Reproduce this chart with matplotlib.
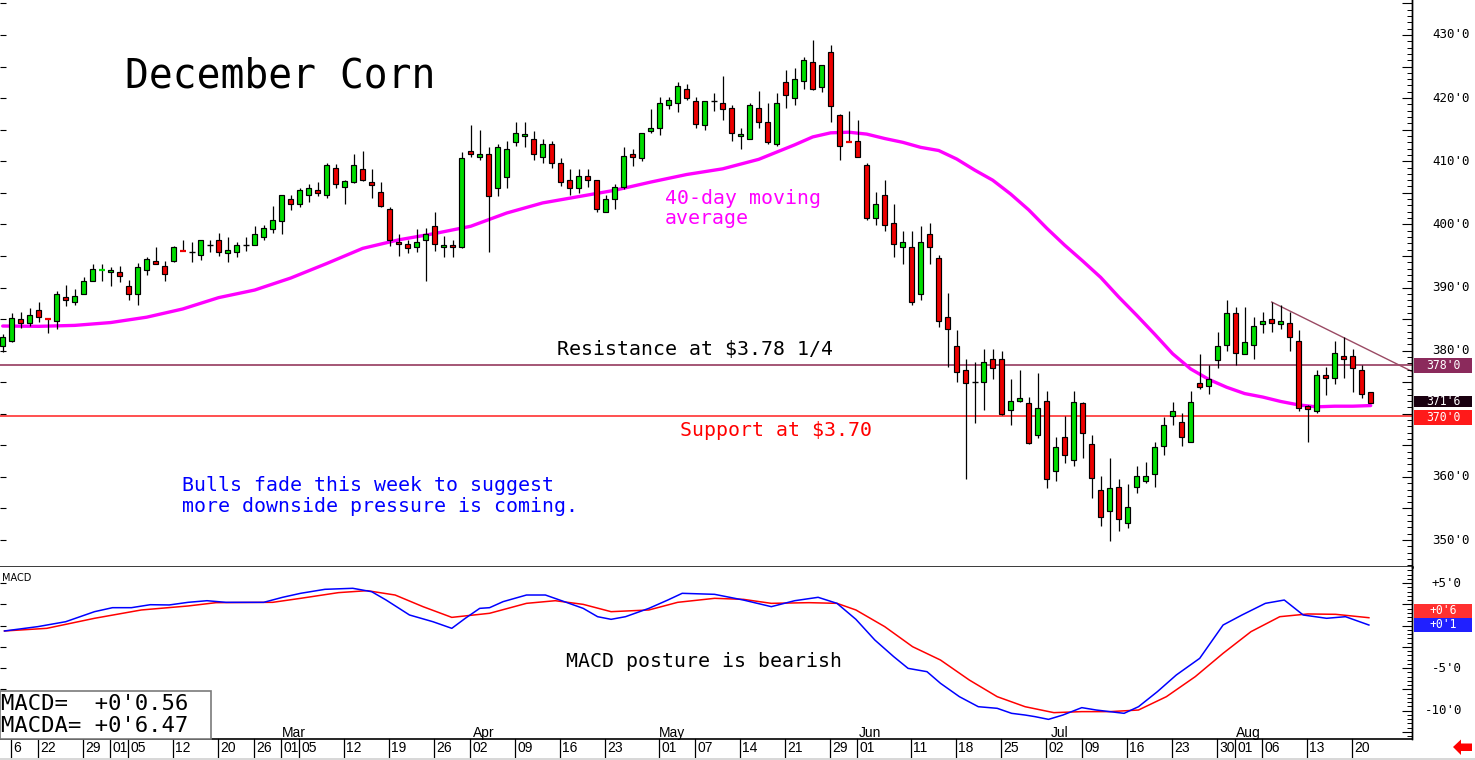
import matplotlib
matplotlib.use("Agg")
import matplotlib.pyplot as plt
import matplotlib.transforms as mtransforms
from matplotlib.patches import Rectangle, Polygon
from matplotlib.ticker import MultipleLocator, NullLocator

# ---------------- data ----------------
opens = [380.7, 381.6, 385.0, 384.3, 386.4, 385.1, 384.65, 388.55, 387.65, 388.9,
         391.1, 392.75, 392.4, 392.4, 390.2, 388.9, 392.7, 394.15, 393.4, 394.15,
         395.9, 395.7, 395.1, 396.7, 397.5, 395.4, 395.7, 396.7, 396.7, 397.95,
         399.2, 400.5, 404.0, 403.3, 404.6, 405.4, 404.6, 408.9, 405.9, 406.7,
         408.7, 406.7, 405.2, 402.4, 397.2, 396.85, 396.4, 397.6, 399.7, 396.4,
         396.7, 396.4, 411.7, 410.6, 411.1, 405.7, 407.5, 413.0, 413.95, 413.5,
         410.6, 412.7, 409.7, 407.0, 405.7, 407.6, 407.0, 401.9, 404.0, 405.9,
         411.1, 410.5, 414.75, 415.2, 418.9, 419.2, 421.4, 419.5, 415.7, 419.5,
         419.2, 418.4, 413.95, 413.6, 418.4, 416.2, 412.7, 422.5, 420.0, 422.7,
         425.7, 421.7, 427.3, 417.4, 413.1, 413.2, 409.4, 401.0, 404.6, 400.2,
         396.4, 396.4, 388.9, 398.4, 394.6, 385.4, 380.7, 376.9, 375.1, 375.1,
         378.6, 378.6, 370.65, 372.1, 371.7, 366.6, 372.1, 360.9, 366.4, 362.6,
         371.7, 365.2, 357.9, 354.55, 358.4, 352.65, 358.4, 359.3, 360.4, 364.85,
         369.6, 368.65, 365.6, 374.8, 374.35, 378.5, 380.85, 385.9, 379.4, 380.85,
         384.2, 385.0, 384.2, 384.3, 381.6, 371.2, 370.4, 376.1, 375.6, 379.1,
         379.1, 376.9, 373.4]
highs = [382.6, 385.9, 386.1, 386.8, 387.7, 385.2, 389.45, 390.35, 389.7, 391.6,
         393.7, 393.7, 393.25, 393.4, 391.2, 393.85, 394.8, 396.4, 394.15, 396.5,
         397.5, 397.2, 397.6, 397.5, 398.6, 397.95, 397.2, 397.95, 399.7, 399.9,
         402.9, 404.7, 404.65, 405.8, 406.4, 406.7, 409.7, 409.5, 407.0, 411.1,
         411.7, 408.7, 406.7, 402.8, 398.4, 397.5, 399.2, 399.4, 401.9, 398.1,
         397.6, 411.5, 415.7, 414.9, 412.2, 412.7, 413.2, 416.2, 416.2, 414.75,
         413.5, 413.2, 410.5, 408.7, 408.7, 408.7, 407.1, 404.6, 406.35, 412.2,
         411.9, 414.5, 418.3, 420.1, 420.1, 422.5, 422.2, 420.1, 419.6, 420.8,
         423.5, 418.9, 415.2, 419.2, 421.2, 419.2, 420.8, 424.4, 424.7, 426.5,
         429.2, 425.3, 428.4, 417.5, 417.9, 416.6, 409.7, 405.2, 407.0, 403.2,
         398.9, 398.9, 399.7, 400.2, 395.1, 389.1, 383.2, 378.6, 378.2, 380.3,
         380.2, 379.9, 375.5, 376.9, 372.6, 376.4, 373.6, 366.4, 369.6, 373.6,
         371.8, 366.6, 360.1, 363.0, 359.6, 358.8, 361.8, 362.3, 365.6, 369.45,
         371.8, 370.1, 373.6, 379.4, 377.7, 382.9, 388.1, 386.9, 386.9, 385.4,
         386.1, 387.7, 387.2, 386.1, 383.2, 371.35, 376.9, 377.4, 381.6, 382.1,
         380.2, 377.8, 373.4]
lows = [379.8, 381.3, 383.6, 383.9, 384.6, 382.8, 383.4, 387.1, 387.3, 388.9,
        391.0, 391.1, 390.3, 390.9, 388.1, 387.3, 392.0, 393.7, 391.1, 394.1,
        395.8, 394.1, 394.4, 395.7, 395.0, 394.1, 394.9, 395.8, 396.7, 397.5,
        398.6, 398.4, 402.3, 402.8, 403.6, 404.5, 404.1, 405.8, 403.2, 406.6,
        406.9, 404.1, 402.8, 396.6, 395.0, 395.4, 395.7, 391.1, 395.8, 394.9,
        394.9, 396.3, 410.6, 410.15, 395.7, 404.5, 405.7, 412.4, 412.2, 410.15,
        409.7, 408.9, 406.1, 404.6, 404.9, 405.9, 401.9, 401.9, 402.4, 405.6,
        409.2, 410.0, 414.4, 414.1, 418.2, 417.75, 419.65, 415.2, 414.9, 417.9,
        416.6, 413.2, 411.9, 413.5, 415.2, 412.7, 412.4, 418.5, 418.9, 421.4,
        421.3, 420.9, 416.2, 410.15, 413.0, 410.6, 400.7, 399.9, 398.9, 394.9,
        393.7, 387.3, 388.0, 393.7, 383.7, 377.4, 375.1, 359.6, 368.6, 370.65,
        375.5, 369.85, 368.3, 371.8, 365.2, 366.1, 358.2, 359.3, 362.2, 361.7,
        363.0, 356.6, 352.3, 349.8, 351.5, 351.9, 357.4, 359.1, 358.4, 363.4,
        368.2, 364.85, 365.6, 373.9, 373.1, 377.2, 379.9, 377.8, 379.4, 378.6,
        382.75, 382.9, 383.4, 379.9, 370.4, 365.6, 370.1, 372.9, 374.7, 375.6,
        373.4, 372.45, 371.75]
closes = [382.1, 385.1, 384.3, 385.6, 385.4, 385.0, 388.9, 388.1, 388.6, 391.1,
          392.9, 392.85, 392.7, 391.9, 388.9, 393.2, 394.5, 393.7, 392.1, 396.4,
          395.8, 395.7, 397.5, 396.7, 395.7, 395.9, 396.7, 396.7, 398.4, 399.4,
          400.65, 404.6, 403.3, 405.4, 405.7, 404.9, 409.4, 406.4, 406.9, 409.4,
          407.1, 406.2, 402.9, 397.5, 396.85, 396.2, 397.2, 398.4, 396.85, 396.7,
          396.4, 410.5, 411.1, 411.1, 404.45, 412.2, 411.9, 414.4, 414.3, 411.1,
          412.7, 409.7, 406.7, 405.7, 407.6, 407.1, 402.4, 404.0, 405.9, 410.9,
          410.6, 414.4, 415.2, 419.2, 419.65, 421.9, 420.0, 415.9, 419.5, 419.5,
          418.2, 414.4, 414.3, 418.9, 416.2, 413.0, 419.2, 420.45, 423.0, 426.0,
          421.4, 425.2, 418.7, 412.4, 413.0, 410.6, 401.0, 403.3, 399.9, 396.85,
          397.2, 387.7, 397.2, 396.4, 384.65, 383.4, 376.6, 374.8, 375.1, 378.2,
          377.2, 370.0, 372.1, 372.45, 365.3, 370.9, 359.6, 364.7, 363.4, 371.8,
          366.9, 359.9, 353.6, 358.2, 353.4, 355.2, 360.1, 360.1, 364.7, 368.2,
          370.4, 366.4, 371.8, 374.2, 375.5, 380.7, 385.9, 379.6, 381.3, 383.9,
          384.65, 384.3, 384.65, 382.1, 370.9, 370.7, 376.1, 375.6, 379.6, 378.6,
          377.2, 373.1, 371.75]

# 40-day moving average (candle index, price)
ma_idx = [0, 4, 8, 12, 16, 20, 24, 28, 32, 36, 40, 44, 48, 52, 56, 60, 64, 68, 72, 76,
          80, 84, 88, 90, 92, 94, 96, 98, 100, 102, 104, 106, 108, 110, 112, 114, 116,
          118, 120, 122, 124, 126, 128, 130, 132, 134, 136, 138, 140, 142, 144, 146,
          148, 150, 152]
ma_vals = [383.9, 383.85, 384.0, 384.45, 385.3, 386.6, 388.4, 389.6, 391.5, 393.8,
           396.2, 397.55, 398.55, 399.7, 401.8, 403.4, 404.4, 405.4, 406.7, 407.9,
           408.8, 410.3, 412.6, 413.85, 414.5, 414.6, 414.3, 413.6, 413.0, 412.2,
           411.7, 410.35, 408.6, 407.0, 404.8, 402.3, 399.4, 396.7, 394.2, 391.6,
           388.5, 385.6, 382.6, 379.5, 377.1, 375.45, 374.2, 373.2, 372.65, 371.95,
           371.4, 371.1, 371.2, 371.2, 371.3]

# MACD (blue) and MACD average (red) (candle index, value)
macd_idx = [0.2, 3.9, 7.0, 10.2, 12.2, 14.3, 16.4, 18.5, 20.6, 22.7, 24.8, 29.0, 31.1,
            33.1, 35.8, 38.9, 41.0, 42.6, 45.2, 47.8, 49.9, 51.4, 53.0, 54.1, 55.6,
            58.2, 60.3, 62.4, 64.5, 66.1, 67.6, 69.2, 71.8, 73.9, 75.5, 79.1, 82.3,
            85.4, 88.0, 90.6, 92.7, 94.8, 96.9, 99.0, 100.6, 102.7, 104.2, 106.3,
            108.4, 110.5, 112.1, 113.6, 114.7, 116.2, 117.8, 119.9, 121.5, 123.0,
            124.6, 126.2, 128.3, 130.4, 133.0, 135.6, 137.7, 140.3, 142.4, 144.5,
            147.1, 149.2, 151.8]
macd_vals = [-0.62, -0.11, 0.47, 1.65, 2.12, 2.12, 2.47, 2.44, 2.75, 2.94, 2.75, 2.75,
             3.34, 3.81, 4.28, 4.40, 4.00, 3.02, 1.26, 0.47, -0.31, 0.87, 2.04, 2.12,
             2.83, 3.61, 3.61, 2.83, 2.04, 1.06, 0.75, 1.06, 2.04, 3.02, 3.81, 3.69,
             3.02, 2.24, 2.94, 3.34, 2.63, 0.75, -1.68, -3.64, -5.02, -5.41, -6.78,
             -8.35, -9.53, -9.72, -10.31, -10.51, -10.70, -11.02, -10.51, -9.64,
             -9.92, -10.11, -10.31, -9.53, -7.76, -5.80, -3.84, 0.08, 1.26, 2.63,
             3.02, 1.26, 0.87, 1.06, 0.08]
sig_idx = [0.2, 4.9, 10.2, 15.4, 20.6, 23.7, 30.0, 33.1, 37.3, 40.5, 43.6, 46.7, 49.9,
           54.1, 58.2, 61.4, 64.5, 67.6, 71.8, 75.0, 79.1, 82.3, 85.4, 89.6, 92.7,
           94.8, 98.0, 101.1, 104.2, 107.4, 110.5, 113.6, 116.8, 119.9, 123.0, 126.2,
           129.3, 132.5, 135.6, 138.7, 141.9, 145.0, 148.1, 151.8]
sig_vals = [-0.62, -0.31, 0.87, 1.85, 2.32, 2.71, 2.75, 3.22, 3.89, 4.12, 3.61, 2.24,
            0.98, 1.46, 2.63, 2.94, 2.51, 1.65, 1.85, 2.75, 3.22, 3.10, 2.63, 2.71,
            2.63, 1.85, -0.11, -2.47, -4.04, -6.39, -8.35, -9.53, -10.23, -10.11,
            -10.11, -9.92, -8.35, -6.00, -3.25, -0.70, 1.06, 1.38, 1.34, 0.94]

resistance_level = 377.65     # drawn line ("378'0")
support_level = 369.7         # drawn line ("370'0")
trend_idx = [141, 156.6]
trend_vals = [387.7, 376.7]

# 370'0 is covered by the support value box in the reference
price_ticks = [350, 360, 380, 390, 400, 410, 420, 430]
macd_ticks = [5, -5, -10]
macd_tick_labels = ["+5'0", "-5'0", "-10'0"]

date_idx = [1, 4, 9, 12, 14, 19, 24, 28, 31, 33, 38, 43, 48, 52, 57, 62, 67, 73, 77,
            82, 87, 92, 95, 101, 106, 111, 116, 120, 125, 130, 135, 137, 140, 145, 150]
date_labels = ["6", "22", "29", "01", "05", "12", "20", "26", "01", "05", "12", "19",
               "26", "02", "09", "16", "23", "01", "07", "14", "21", "29", "01", "11",
               "18", "25", "02", "09", "16", "23", "30", "01", "06", "13", "20"]
month_idx = [31, 52, 73, 95, 116, 137]
month_labels = ["Mar", "Apr", "May", "Jun", "Jul", "Aug"]

# ---------------- figure ----------------
W, H = 1475, 760
fig = plt.figure(figsize=(W / 100, H / 100), dpi=100)
fig.patch.set_facecolor("white")


def fx(px):
    return px / W


def fy(py):
    return 1 - py / H


MONO = "DejaVu Sans Mono"
SANS = "Liberation Sans"
GREEN = "#00dd00"
RED = "#ee0000"
MAGENTA = "#ff00ff"
MAROON = "#8c2850"

ax = fig.add_axes([0, fy(567), fx(1412), 567 / H])
axm = fig.add_axes([0, fy(739), fx(1412), (739 - 567) / H])

XL = (-0.3, 156.59)
ax.set_xlim(*XL)
ax.set_ylim(345.73, 435.54)
axm.set_xlim(*XL)
axm.set_ylim(-13.33, 6.906)

for a in (ax, axm):
    a.set_xticks([])
    a.spines["top"].set_visible(False)
    a.spines["left"].set_visible(False)
    a.spines["right"].set_linewidth(1.0)
    a.yaxis.set_minor_locator(NullLocator())
    a.tick_params(axis="y", which="both", left=True, right=False, labelleft=False,
                  labelright=False, direction="in", length=4, width=0.8)
ax.spines["bottom"].set_linewidth(1.8)
axm.spines["bottom"].set_linewidth(1.2)
ax.yaxis.set_major_locator(MultipleLocator(5))
axm.yaxis.set_major_locator(MultipleLocator(2.5))

# right-side tick marks
for a, maj, mnr in ((ax, 5, 1), (axm, 2.5, 0.5)):
    r = a.twinx()
    r.set_ylim(a.get_ylim())
    r.set_xlim(*XL)
    for s in ("top", "left", "bottom"):
        r.spines[s].set_visible(False)
    r.spines["right"].set_linewidth(1.0)
    r.yaxis.set_major_locator(MultipleLocator(maj))
    r.yaxis.set_minor_locator(MultipleLocator(mnr))
    r.tick_params(axis="y", which="major", direction="in", length=7, width=0.8,
                  labelright=False)
    r.tick_params(axis="y", which="minor", direction="in", length=3.5, width=0.7)
    r.set_xticks([])

# ---------------- price panel ----------------
ax.axhline(resistance_level, color=MAROON, lw=1.1, zorder=1)
ax.axhline(support_level, color="#ff2020", lw=1.1, zorder=1)
ax.plot(trend_idx, trend_vals, color="#9a4a64", lw=1.0, zorder=1, clip_on=False)
ax.plot(ma_idx, ma_vals, color=MAGENTA, lw=2.4, zorder=2, solid_capstyle="round",
        solid_joinstyle="round")

bw = 0.56
for i, (o, h, l, c) in enumerate(zip(opens, highs, lows, closes)):
    ax.vlines(i, l, h, color="black", lw=0.9, zorder=3)
    if abs(c - o) < 0.15:
        col = "black" if c == o else (GREEN if c > o else RED)
        ax.hlines((o + c) / 2, i - bw / 2 - 0.05, i + bw / 2 + 0.05, color=col,
                  lw=1.0 if col == "black" else 1.6, zorder=4)
    else:
        col = GREEN if c > o else RED
        ax.add_patch(Rectangle((i - bw / 2, min(o, c)), bw, abs(c - o), fc=col,
                               ec="black", lw=0.85, zorder=4))

# annotations
fig.text(fx(125), fy(87.5), "December Corn", fontsize=28.5, family=MONO,
         va="baseline", ha="left", color="black")
fig.text(fx(665), fy(203.5), "40-day moving", fontsize=14.3, family=MONO,
         va="baseline", color=MAGENTA)
fig.text(fx(665), fy(223.5), "average", fontsize=14.3, family=MONO,
         va="baseline", color=MAGENTA)
fig.text(fx(557), fy(355.5), "Resistance at $3.78 1/4", fontsize=14.3, family=MONO,
         va="baseline", color="black")
fig.text(fx(680), fy(436.5), "Support at $3.70", fontsize=14.3, family=MONO,
         va="baseline", color="#ff0000")
fig.text(fx(182), fy(491), "Bulls fade this week to suggest", fontsize=14.3,
         family=MONO, va="baseline", color="#0000ff")
fig.text(fx(182), fy(512), "more downside pressure is coming.", fontsize=14.3,
         family=MONO, va="baseline", color="#0000ff")

# right-hand price labels
bp = mtransforms.blended_transform_factory(fig.transFigure, ax.transData)
for p in price_ticks:
    ax.text(fx(1470), p, f"{p}'0", transform=bp, ha="right", va="center",
            family=MONO, fontsize=9, color="black", clip_on=False)


def value_box(a, trans, lo, hi, text, fc, tc="white"):
    a.add_patch(Rectangle((fx(1414), lo), fx(58), hi - lo, transform=trans, fc=fc,
                          ec="none", clip_on=False, zorder=5))
    a.text(fx(1443), (lo + hi) / 2, text, transform=trans, ha="center", va="center",
           family=MONO, fontsize=8.3, color=tc, clip_on=False, zorder=6)


value_box(ax, bp, resistance_level - 1.15, resistance_level + 1.15, "378'0", "#8b2a5c")
value_box(ax, bp, 371.0, 372.75, "371'6", "#1a0010")
value_box(ax, bp, 368.3, 370.6, "370'0", "#ff1a1a")

# ---------------- MACD panel ----------------
axm.plot(sig_idx, sig_vals, color="#ff0000", lw=1.1, zorder=3)
axm.plot(macd_idx, macd_vals, color="#0000ff", lw=1.1, zorder=4)

bm = mtransforms.blended_transform_factory(fig.transFigure, axm.transData)
for v, lab in zip(macd_ticks, macd_tick_labels):
    axm.text(fx(1462), v, lab, transform=bm, ha="right", va="center", family=MONO,
             fontsize=9, color="black", clip_on=False)
value_box(axm, bm, 0.95, 2.55, "+0'6", "#ff3030")
value_box(axm, bm, -0.7, 0.95, "+0'1", "#2020ff")

fig.text(fx(2), fy(578), "MACD", fontsize=7, family="DejaVu Sans", va="center",
         ha="left", color="black")
fig.text(fx(566), fy(667), "MACD posture is bearish", fontsize=14.3, family=MONO,
         va="baseline", color="black")

# MACD value box
fig.patches.append(Rectangle((0, fy(739)), fx(210.5), (739 - 690.5) / H,
                             transform=fig.transFigure, fc="white", ec="#7a7a7a",
                             lw=1.2, zorder=10))
fig.text(fx(1), fy(710), "MACD=  +0'0.56", fontsize=16, family=MONO, va="baseline",
         ha="left", color="black", zorder=11)
fig.text(fx(1), fy(732), "MACDA= +0'6.47", fontsize=16, family=MONO, va="baseline",
         ha="left", color="black", zorder=11)

# ---------------- date axis ----------------
bx = mtransforms.blended_transform_factory(axm.transData, axm.transAxes)
row_bottom = -(757 - 739) / (739 - 567)
for d, lab in zip(date_idx, date_labels):
    axm.plot([d - 0.06, d - 0.06], [0, row_bottom], transform=bx, color="black",
             lw=0.9, clip_on=False)
    axm.text(d + 0.2, row_bottom / 2, lab, transform=bx, ha="left", va="center",
             family=SANS, fontsize=10, color="black", clip_on=False)
for m, lab in zip(month_idx, month_labels):
    axm.text(m + 1.4, (739 - 733) / (739 - 567), lab, transform=bx, ha="center",
             va="center", family=SANS, fontsize=10, color="black", clip_on=False)

# bottom strip and red arrow
fig.patches.append(Rectangle((0, 0), 1, 2.5 / H, transform=fig.transFigure,
                             fc="#d8d8d8", ec="none"))
arrow_px = [(1453, 747), (1461, 739.5), (1461, 743.5), (1472, 743.5), (1472, 751),
            (1461, 751), (1461, 755)]
fig.patches.append(Polygon([(fx(x), fy(y)) for x, y in arrow_px], closed=True,
                           transform=fig.transFigure, fc="#ff0000", ec="none"))

fig.savefig("out.png", dpi=100, facecolor="white")
